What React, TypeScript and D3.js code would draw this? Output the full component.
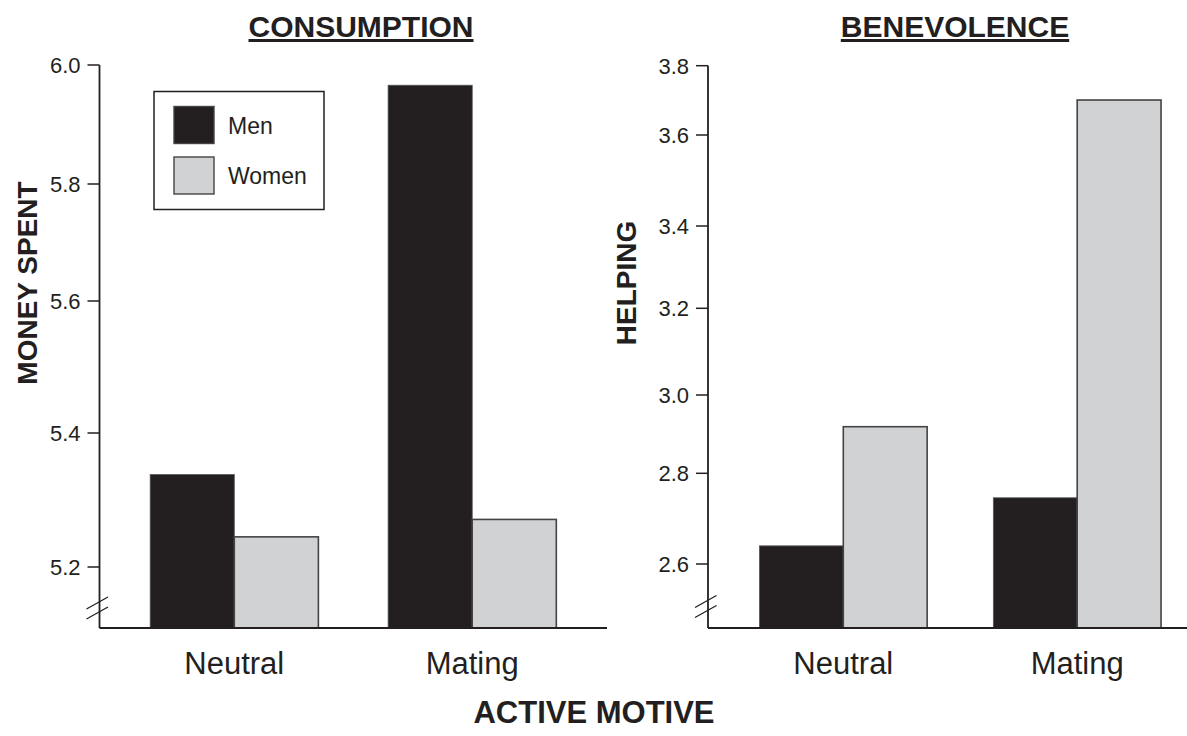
import React from 'react';
import * as d3 from 'd3';

// data
const motives = ["Neutral", "Mating"];
const sexes = ["Men", "Women"];

const consumptionMen = [5.338, 5.966];
const consumptionWomen = [5.245, 5.271];
const consumptionTicks = [5.2, 5.4, 5.6, 5.8, 6.0];

const helpingMen = [2.640, 2.746];
const helpingWomen = [2.919, 3.701];
const helpingTicks = [2.6, 2.8, 3.0, 3.2, 3.4, 3.6, 3.8];

const FONT = "'Liberation Sans', Arial, Helvetica, sans-serif";
const INK = "#231f20";
const fills = { Men: "#231f20", Women: "#d1d2d4" };

const baseline = 628;

// the printed axes are not evenly spaced, so the y scales are piecewise
const panels = [
	{
		key: "consumption",
		title: "CONSUMPTION",
		titleX: 361,
		yTitle: "MONEY SPENT",
		yTitleX: 27,
		axisX: 99.5,
		xRange: [99.5, 607],
		xEnd: 607,
		paddingInner: 0.293,
		paddingOuter: 0.213,
		ticks: consumptionTicks,
		floor: 5.108,
		stops: [628, 567, 433, 301, 184, 65],
		breakY: [603, 613],
		men: consumptionMen,
		women: consumptionWomen
	},
	{
		key: "benevolence",
		title: "BENEVOLENCE",
		titleX: 955,
		yTitle: "HELPING",
		yTitleX: 626,
		axisX: 708,
		xRange: [708, 1212.5],
		xEnd: 1187,
		paddingInner: 0.283,
		paddingOuter: 0.22,
		ticks: helpingTicks,
		floor: 2.459,
		stops: [628, 564, 473.3, 395, 308.3, 226, 135, 65.7],
		breakY: [601.5, 611.5],
		men: helpingMen,
		women: helpingWomen
	}
];

const Panel = ({ p }) => {
	const y = d3.scaleLinear().domain([p.floor, ...p.ticks]).range(p.stops);
	const x = d3.scaleBand().domain(motives).range(p.xRange)
		.paddingInner(p.paddingInner).paddingOuter(p.paddingOuter);
	const sub = d3.scaleBand().domain(sexes).range([0, x.bandwidth()]);
	const top = y(p.ticks[p.ticks.length - 1]);

	return (
		<g>
			{/* bars */}
			{motives.map((m, i) => sexes.map(s => {
				const v = s === "Men" ? p.men[i] : p.women[i];
				return (
					<rect key={`${m}_${s}`}
						x={x(m) + sub(s)}
						y={y(v)}
						width={sub.bandwidth()}
						height={baseline - y(v)}
						fill={fills[s]}
						stroke={s === "Men" ? "#555" : "#444"}
						strokeWidth={s === "Men" ? 0.8 : 1.6} />
				);
			}))}

			{/* axes */}
			<line x1={p.axisX} x2={p.axisX} y1={top} y2={baseline} stroke={INK} strokeWidth={1.8} />
			<line x1={p.axisX} x2={p.xEnd} y1={baseline} y2={baseline} stroke={INK} strokeWidth={1.8} />
			{p.ticks.map(t => (
				<g key={t}>
					<line x1={p.axisX - 12} x2={p.axisX} y1={y(t)} y2={y(t)} stroke={INK} strokeWidth={1.5} />
					<text x={p.axisX - 19} y={y(t)} dy="0.36em" textAnchor="end"
						fontSize={22} fontFamily={FONT} fill={INK}>
						{d3.format(".1f")(t)}
					</text>
				</g>
			))}
			{p.breakY.map(b => (
				<line key={b} x1={p.axisX - 13} y1={b + 6} x2={p.axisX + 8.5} y2={b - 6}
					stroke={INK} strokeWidth={1.3} />
			))}

			{/* category labels */}
			{motives.map(m => (
				<text key={m} x={x(m) + x.bandwidth() / 2} y={674} textAnchor="middle"
					fontSize={31} fontFamily={FONT} fill={INK}>{m}</text>
			))}

			{/* titles */}
			<text x={p.titleX} y={37} textAnchor="middle" fontSize={30} fontWeight="bold"
				fontFamily={FONT} fill={INK} textDecoration="underline">{p.title}</text>
			<text transform={`translate(${p.yTitleX},283)rotate(-90)`} dy="0.36em" textAnchor="middle"
				fontSize={28} fontWeight="bold" fontFamily={FONT} fill={INK}>{p.yTitle}</text>
		</g>
	);
};

const Legend = () => (
	<g>
		<rect x={154} y={91.5} width={170} height={118} fill="#fff" stroke={INK} strokeWidth={1.5} />
		{sexes.map((s, i) => (
			<g key={s} transform={`translate(174,${106.5 + i * 50.5})`}>
				<rect width={40} height={37} fill={fills[s]} stroke="#444" strokeWidth={1.4} />
				<text x={54} y={19} dy="0.36em" fontSize={23} fontFamily={FONT} fill={INK}>{s}</text>
			</g>
		))}
	</g>
);

export default function App() {
	return (
		<svg width={1187} height={736}
			style={{ position: "absolute", left: 0, top: 0, background: "#fff" }}>
			{panels.map(p => <Panel key={p.key} p={p} />)}
			<Legend />
			<text x={594} y={723} textAnchor="middle" fontSize={31} fontWeight="bold"
				fontFamily={FONT} fill={INK}>ACTIVE MOTIVE</text>
		</svg>
	);
}
